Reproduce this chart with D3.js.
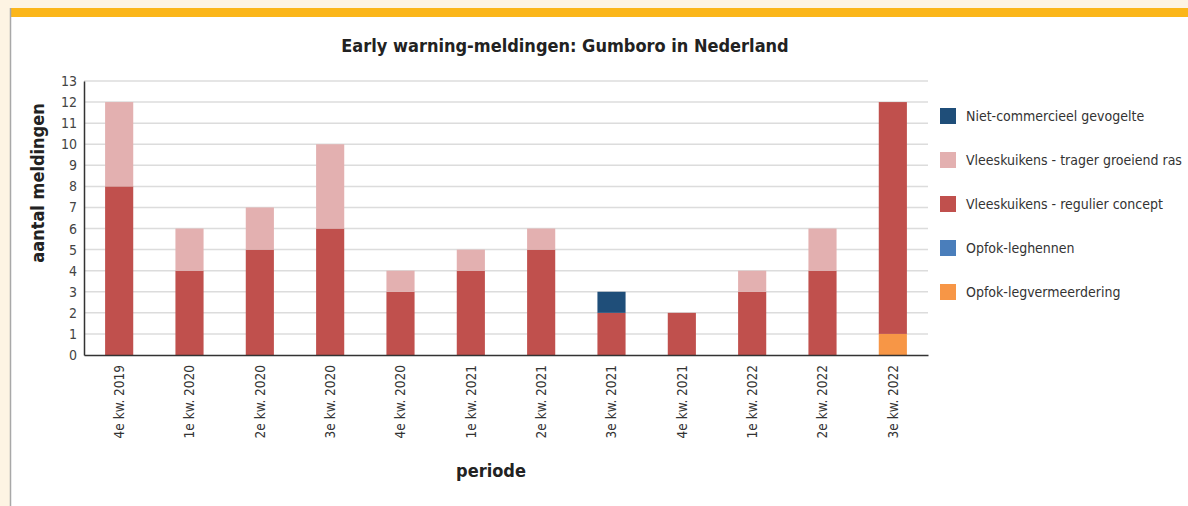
<!DOCTYPE html>
<html>
<head>
<meta charset="utf-8">
<script src="https://cdn.jsdelivr.net/npm/d3@7"></script>
<style>
  body { margin: 0; background: #fdf4e3; }
  svg { display: block; }
</style>
</head>
<body>
<script>

var periods = ["4e kw. 2019", "1e kw. 2020", "2e kw. 2020", "3e kw. 2020", "4e kw. 2020", "1e kw. 2021",
               "2e kw. 2021", "3e kw. 2021", "4e kw. 2021", "1e kw. 2022", "2e kw. 2022", "3e kw. 2022"]

// series, bottom of the stack first
var opfokLegverm  = [0, 0, 0, 0, 0, 0, 0, 0, 0, 0, 0, 1]
var opfokLeghen   = [0, 0, 0, 0, 0, 0, 0, 0, 0, 0, 0, 0]
var regulier      = [8, 4, 5, 6, 3, 4, 5, 2, 2, 3, 4, 11]
var trager        = [4, 2, 2, 4, 1, 1, 1, 0, 0, 1, 2, 0]
var nietCommerc   = [0, 0, 0, 0, 0, 0, 0, 1, 0, 0, 0, 0]

var seriesNames = ["Opfok-legvermeerdering", "Opfok-leghennen", "Vleeskuikens - regulier concept",
                   "Vleeskuikens - trager groeiend ras", "Niet-commercieel gevogelte"]
var seriesColors = ["#f79646", "#4a7ebb", "#c0504d", "#e3b0b0", "#1f4e79"]
var yTicks = d3.range(0, 14)

var W = 1188, H = 506
var margin = {left: 84, right: 260, top: 81, bottom: 151}
var font = "'DejaVu Sans Condensed', 'DejaVu Sans', sans-serif"

/******** Data table for the stack *********/
var rows = periods.map(function(p, i){
  return {
    period: p,
    s0: opfokLegverm[i], s1: opfokLeghen[i], s2: regulier[i], s3: trager[i], s4: nietCommerc[i]
  }
})
var stack = d3.stack().keys(["s0", "s1", "s2", "s3", "s4"])(rows)

var svg = d3.select("body")
  .append("svg")
    .attr("width", W)
    .attr("height", H)

/******** Frame *********/
svg.append("rect")
  .attr("x", 10).attr("y", 17).attr("width", W - 10).attr("height", H - 17)
  .attr("fill", "#ffffff")
svg.append("rect")
  .attr("x", 10).attr("y", 8).attr("width", W - 10).attr("height", 9)
  .attr("fill", "#fbb619")
svg.append("line")
  .attr("x1", 10.5).attr("x2", 10.5).attr("y1", 8).attr("y2", H)
  .attr("stroke", "#a8a8a8").attr("stroke-width", 1.5)

/******** Scales *********/
var x = d3.scaleBand()
  .domain(periods)
  .range([margin.left, W - margin.right])
  .paddingInner(0.6)
  .paddingOuter(0.3)

var y = d3.scaleLinear()
  .domain([0, 13])
  .range([H - margin.bottom, margin.top])

/******** Grid *********/
svg.append("g")
  .selectAll("line")
  .data(yTicks.slice(1))
  .enter()
  .append("line")
    .attr("x1", margin.left).attr("x2", W - margin.right)
    .attr("y1", function(d){ return y(d) }).attr("y2", function(d){ return y(d) })
    .attr("stroke", "#dcdcdc").attr("stroke-width", 1.5)

/******** Bars *********/
svg.append("g")
  .selectAll("g")
  .data(stack)
  .enter()
  .append("g")
    .attr("fill", function(d, i){ return seriesColors[i] })
  .selectAll("rect")
  .data(function(d){ return d })
  .enter()
  .append("rect")
    .attr("x", function(d){ return x(d.data.period) })
    .attr("width", x.bandwidth())
    .attr("y", function(d){ return y(d[1]) })
    .attr("height", function(d){ return y(d[0]) - y(d[1]) })

/******** Axes *********/
var yAxis = svg.append("g")
  .attr("transform", "translate(" + margin.left + ",0)")
  .call(d3.axisLeft(y).tickValues(yTicks).tickSize(0).tickPadding(7))
yAxis.select(".domain").attr("stroke", "#333").attr("stroke-width", 1.5)
yAxis.selectAll("text")
  .attr("font-family", font)
  .attr("font-size", "14px")
  .attr("fill", "#444")

var xAxis = svg.append("g")
  .attr("transform", "translate(0," + (H - margin.bottom) + ")")
  .call(d3.axisBottom(x).tickSize(0).tickPadding(0))
xAxis.select(".domain").attr("stroke", "#333").attr("stroke-width", 1.5)
xAxis.selectAll("text")
  .attr("font-family", font)
  .attr("font-size", "13.5px")
  .attr("fill", "#333")
  .attr("transform", "rotate(-90)")
  .attr("text-anchor", "end")
  .attr("x", -10)
  .attr("y", 0)
  .attr("dy", "0.35em")

/******** Titles *********/
svg.append("text")
  .attr("x", 565).attr("y", 52)
  .attr("text-anchor", "middle")
  .attr("font-family", font)
  .attr("font-weight", "bold")
  .attr("font-size", "18px")
  .attr("fill", "#222")
  .text("Early warning-meldingen: Gumboro in Nederland")

svg.append("text")
  .attr("x", 491).attr("y", 477)
  .attr("text-anchor", "middle")
  .attr("font-family", font)
  .attr("font-weight", "bold")
  .attr("font-size", "18px")
  .attr("fill", "#222")
  .text("periode")

svg.append("text")
  .attr("transform", "translate(44,183) rotate(-90)")
  .attr("text-anchor", "middle")
  .attr("font-family", font)
  .attr("font-weight", "bold")
  .attr("font-size", "18px")
  .attr("fill", "#222")
  .text("aantal meldingen")

/******** Legend *********/
var legend = svg.append("g")
  .selectAll("g")
  .data(d3.range(seriesNames.length).reverse())
  .enter()
  .append("g")
    .attr("transform", function(d, i){ return "translate(940," + (108 + i * 44) + ")" })

legend.append("rect")
  .attr("width", 16).attr("height", 16)
  .attr("fill", function(d){ return seriesColors[d] })

legend.append("text")
  .attr("x", 26).attr("y", 8).attr("dy", "0.35em")
  .attr("font-family", font)
  .attr("font-size", "14px")
  .attr("fill", "#333")
  .text(function(d){ return seriesNames[d] })

</script>
</body>
</html>
